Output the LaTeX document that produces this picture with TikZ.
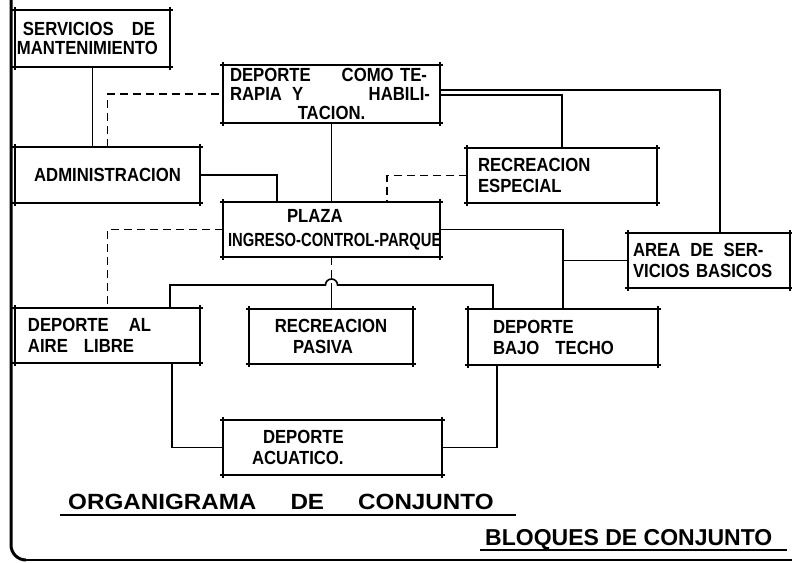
\documentclass[tikz,border=0pt]{standalone}
\usepackage{fontspec}
\usepackage{graphicx}
\setmainfont{Liberation Sans}
\newfontfamily\rotulo[FakeStretch=0.88]{Liberation Sans}
\usetikzlibrary{calc}
\tikzset{
  bloque/.style={draw, line width=1.6pt, rectangle, anchor=north west, outer sep=0pt,
    inner xsep=0pt, inner ysep=0pt, align=left, font=\rotulo\bfseries\fontsize{19}{21}\selectfont},
  enlace/.style={line width=1.6pt},
  trazo/.style={line width=1.6pt, dash pattern=on 8pt off 5pt},
  marca/.style={line width=1.2pt},
  titulo/.style={anchor=base west, inner sep=0pt, font=\bfseries\fontsize{22}{24}\selectfont}
}
\begin{document}
\begin{tikzpicture}[x=1pt,y=-1pt]
\useasboundingbox (0,0) rectangle (792,562);
\node[bloque, text width=155pt, minimum height=57pt, font=\rotulo\bfseries\fontsize{19}{19.5}\selectfont] (serv) at (15,10)
  {\hspace*{8pt}SERVICIOS\hfill DE\hspace*{15pt}\null\\\hspace*{2pt}MANTENIMIENTO};
\node[bloque, text width=217pt, minimum height=58pt, font=\rotulo\bfseries\fontsize{19}{19}\selectfont] (terapia) at (223,65)
  {\hspace*{7pt}DEPORTE\hfill COMO TE-\hspace*{13pt}\null\\\hspace*{7pt}RAPIA\hspace{10pt}Y\hfill HABILI-\hspace*{10pt}\null\\\hfill TACION.\hfill\null};
\node[bloque, text width=185pt, minimum height=56pt, align=center] (admin) at (15,147) {ADMINISTRACION};
\node[bloque, text width=190pt, minimum height=55pt] (especial) at (467,148)
  {\hspace*{11pt}RECREACION\\\hspace*{11pt}ESPECIAL};
\node[bloque, text width=217pt, minimum height=55pt] (plaza) at (223,202)
  {\hspace*{64pt}PLAZA\\[3pt]\hspace*{5pt}\scalebox{0.885}[1]{INGRESO-CONTROL-PARQUE}};
\node[bloque, text width=162pt, minimum height=55pt] (area) at (628,233)
  {\hspace*{5pt}AREA\hspace{10pt}DE\hspace{10pt}SER-\\\hspace*{5pt}VICIOS BASICOS};
\node[bloque, text width=185pt, minimum height=55pt] (aire) at (15,308)
  {\hspace*{13pt}DEPORTE\hspace{20pt}AL\\\hspace*{13pt}AIRE\hspace{16pt}LIBRE};
\node[bloque, text width=164pt, minimum height=55pt, align=center] (pasiva) at (249,309)
  {RECREACION\\PASIVA\hspace*{16pt}\null};
\node[bloque, text width=190pt, minimum height=56pt] (techo) at (468,309)
  {\hspace*{25pt}DEPORTE\\\hspace*{25pt}BAJO\hspace{16pt}TECHO};
\node[bloque, text width=219pt, minimum height=55pt] (acuatico) at (223,420)
  {\hspace*{40pt}DEPORTE\\\hspace*{29pt}ACUATICO.};
\node[titulo] (organi) at (68,509)
  {\scalebox{1.1}[1]{ORGANIGRAMA\hspace{31pt}DE\hspace{31pt}CONJUNTO}};
\node[titulo, font=\bfseries\fontsize{23}{25}\selectfont] (bloques) at (485,545) {BLOQUES DE CONJUNTO};
\coordinate (barra) at (331.5,285);
\foreach \n in {serv,terapia,admin,especial,plaza,area,aire,pasiva,techo,acuatico}{
  \draw[marca] ([xshift=-3pt]\n.north west) -- ([xshift=3pt]\n.north east)
    ([xshift=-3pt]\n.south west) -- ([xshift=3pt]\n.south east)
    ([yshift=3pt]\n.north west) -- ([yshift=-3pt]\n.south west)
    ([yshift=3pt]\n.north east) -- ([yshift=-3pt]\n.south east);
  \foreach \e in {north west,north east,south west,south east}
    \fill (\n.\e) circle (1.8pt);
}
\draw[enlace] (serv.south) -- (serv.south |- admin.north);
\draw[trazo] (admin.north) |- (terapia.west);
\draw[enlace] (admin.east) -| ([xshift=54pt]plaza.north west);
\draw[enlace] (terapia.south) -- (plaza.north);
\draw[trazo] (especial.west) -| ([xshift=-53pt]plaza.north east);
\draw[enlace] ([yshift=4pt]terapia.east) -| ([xshift=92pt]area.north west);
\draw[enlace] ([yshift=-1pt]terapia.east) -| (especial.north);
\draw[enlace] (plaza.east) -| (techo.north);
\draw[enlace] (area.west) -- (area.west -| techo.north);
\draw[trazo] (plaza.west) -| (aire.north);
\draw[enlace] ([xshift=-30pt]aire.north east) |- ([xshift=-6pt]barra)
  arc[start angle=180, end angle=0, radius=6pt] -| ([xshift=25pt]techo.north west);
\draw[trazo] (plaza.south) -- (barra);
\draw[enlace] (barra) -- (barra |- pasiva.north);
\draw[enlace] ([xshift=-28pt]aire.south east) |- (acuatico.west);
\draw[enlace] ([xshift=29pt]techo.south west) |- (acuatico.east);
\draw[line width=1.4pt] ([xshift=-8pt,yshift=-6pt]organi.base west) -- ([xshift=22pt,yshift=-6pt]organi.base east);
\draw[line width=1.4pt] ([xshift=-5pt,yshift=-5pt]bloques.base west) -- ([xshift=14pt,yshift=-5pt]bloques.base east);
\draw[line width=3pt] (11,0) -- (11,545) arc[start angle=180, end angle=270, radius=15pt];
\draw[line width=1.8pt] (25,560) -- (792,560);
\end{tikzpicture}
\end{document}
